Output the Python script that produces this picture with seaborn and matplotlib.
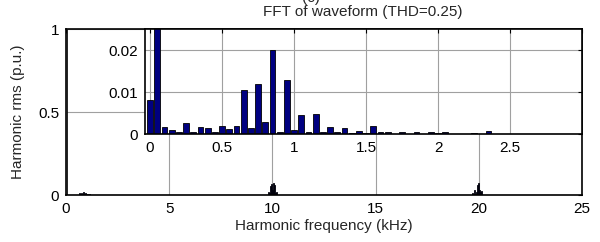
import numpy as np
import pandas as pd
import matplotlib
matplotlib.use("Agg")
import matplotlib.pyplot as plt
import seaborn as sns

# low-order harmonics, 0 .. 2.95 kHz in 50 Hz steps (p.u. of fundamental)
low_freq = [round(0.05 * k, 2) for k in range(60)]
low_mag = [0.008, 1.0, 0.0018, 0.001, 0.0006, 0.0026, 0.0006, 0.0018, 0.0014, 0.0004,
           0.002, 0.0012, 0.002, 0.0104, 0.0014, 0.012, 0.0028, 0.020, 0.0006, 0.0128,
           0.0009, 0.0046, 0.0004, 0.0048, 0.0005, 0.0018, 0.0005, 0.0014, 0.0003, 0.0008,
           0.0003, 0.002, 0.0004, 0.0004, 0.0001, 0.0006, 0.0001, 0.0006, 0.0001, 0.0006,
           0.0002, 0.0006, 0.0001, 0.0001, 0.0001, 0.0003, 0.0001, 0.0007, 0.0001, 0.0001,
           0.0001, 0.0001, 0.0001, 0.0001, 0.0001, 0.0001, 0.0001, 0.0001, 0.0001, 0.0001]

# switching sidebands around 10 kHz and 20 kHz
sb10_freq = [9.80, 9.85, 9.90, 9.95, 10.00, 10.05, 10.10, 10.15, 10.20]
sb10_mag = [0.02, 0.01, 0.055, 0.065, 0.03, 0.07, 0.06, 0.015, 0.02]
sb20_freq = [19.70, 19.80, 19.90, 19.95, 20.00, 20.05, 20.10, 20.15]
sb20_mag = [0.015, 0.03, 0.02, 0.06, 0.07, 0.03, 0.02, 0.025]

df = pd.DataFrame({"freq": low_freq + sb10_freq + sb20_freq,
                   "mag": low_mag + sb10_mag + sb20_mag})
df_low = pd.DataFrame({"freq": low_freq, "mag": low_mag})

sns.set_style("white")
plt.rcParams["font.family"] = ["Liberation Sans", "DejaVu Sans"]
plt.rcParams["font.size"] = 11

bar_col = "#000080"
grid_col = "#a0a0a0"

fig = plt.figure(figsize=(6.0, 2.42), dpi=100)
ax = fig.add_axes([0.11, 0.194, 0.86, 0.686])
sns.barplot(data=df, x="freq", y="mag", native_scale=True, color=bar_col, saturation=1,
            edgecolor="black", linewidth=0.6, errorbar=None, width=0.8, ax=ax)
ax.set_xlim(0, 25)
ax.set_ylim(0, 1)
ax.set_xticks([0, 5, 10, 15, 20, 25])
ax.set_xticklabels(["0", "5", "10", "15", "20", "25"])
ax.set_yticks([0, 0.5, 1])
ax.set_yticklabels(["0", "0.5", "1"])
ax.set_xlabel("Harmonic frequency (kHz)", labelpad=2)
ax.set_ylabel("Harmonic rms (p.u.)", labelpad=9)
ax.grid(True, color=grid_col, lw=0.8)
ax.set_axisbelow(True)
ax.tick_params(direction="in", length=3, top=True, right=True, pad=5, colors="black")
for s in ax.spines.values():
    s.set_visible(True)
    s.set_color("black")
    s.set_linewidth(1.2)

# zoomed inset, 0 .. 3 kHz
ins = fig.add_axes([0.2417, 0.446, 0.7283, 0.434])
sns.barplot(data=df_low, x="freq", y="mag", native_scale=True, color=bar_col, saturation=1,
            edgecolor="black", linewidth=0.6, errorbar=None, width=0.8, ax=ins)
ins.set_xlim(-0.035, 3.0)
ins.set_ylim(0, 0.025)
ins.set_xticks([0, 0.5, 1, 1.5, 2, 2.5])
ins.set_xticklabels(["0", "0.5", "1", "1.5", "2", "2.5"])
ins.set_yticks([0, 0.01, 0.02])
ins.set_yticklabels(["0", "0.01", "0.02"])
ins.set_xlabel("")
ins.set_ylabel("")
ins.set_facecolor("white")
ins.grid(True, color=grid_col, lw=0.8)
ins.set_axisbelow(True)
ins.tick_params(direction="in", length=3, top=True, right=True, pad=5, colors="black")
for s in ins.spines.values():
    s.set_visible(True)
    s.set_color("black")
    s.set_linewidth(1.2)

fig.text(0.605, 0.95, "FFT of waveform (THD=0.25)", ha="center", va="center", fontsize=11)
fig.text(0.518, 0.992, "(c)", ha="center", va="baseline", fontsize=11)

fig.savefig("out.png", dpi=100)
